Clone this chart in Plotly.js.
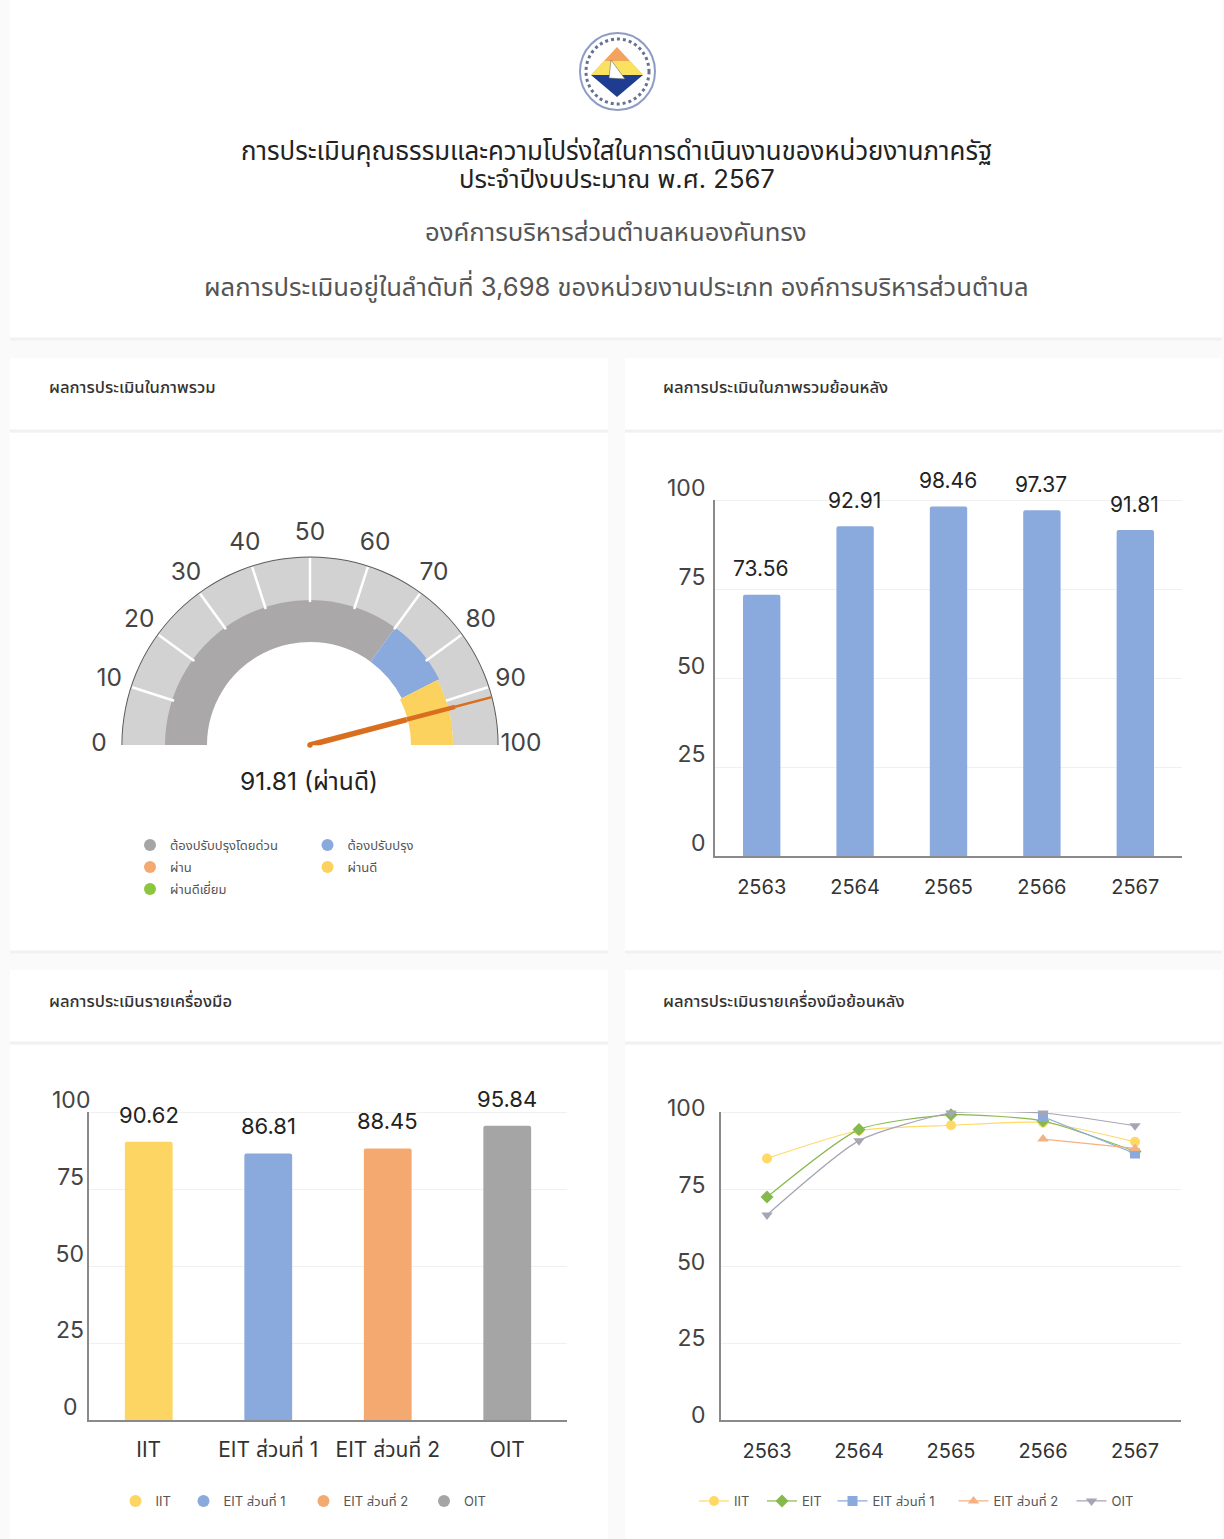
<!DOCTYPE html>
<html><head><meta charset="utf-8">
<script src="https://cdn.plot.ly/plotly-3.0.1.min.js"></script>
<style>html,body{margin:0;padding:0;background:#fcfcfc}#c{width:1224px;height:1539px}</style>
</head><body><div id="c"></div>
<script>
const W=1224,H=1539;
const FONT="Inter, 'Noto Sans Thai', 'Noto Sans', sans-serif";
// ---- data ----
const gaugeTicks=[0,10,20,30,40,50,60,70,80,90,100];
const gaugeBandNames=['ต้องปรับปรุงโดยด่วน','ต้องปรับปรุง','ผ่านดี'];
const gaugeBandStart=[0,70,85];
const gaugeBandEnd=[70,85,100];
const gaugeBandColors=['#aba8a9','#8aa9dc','#fcd25f'];
const gaugeScore=91.81;
const gaugeLabel='91.81 (ผ่านดี)';
const gaugeLegend=['ต้องปรับปรุงโดยด่วน','ผ่าน','ผ่านดีเยี่ยม','ต้องปรับปรุง','ผ่านดี'];
const gaugeLegendColors=['#a5a5a5','#f4a971','#8cc63f','#8aa9dc','#fcd25f'];
const years=['2563','2564','2565','2566','2567'];
const overall=[73.56,92.91,98.46,97.37,91.81];
const tools=['IIT','EIT ส่วนที่ 1','EIT ส่วนที่ 2','OIT'];
const toolScores=[90.62,86.81,88.45,95.84];
const toolColors=['#fcd562','#8aa9dc','#f4a971','#a5a5a5'];
const histIIT=[85.2,94.3,96,96.9,90.62];
const histEIT=[72.6,94.6,99.4,97.4,87.5];
const histEIT1=[null,null,null,98.8,86.81];
const histEIT2=[null,null,null,91.5,88.45];
const histOIT=[66.8,91,100,100,95.84];
const yTicks=[0,25,50,75,100];

const fx=x=>x/W, fy=y=>1-y/H;
const dark='#222', mid='#444';
const traces=[];
const annotations=[];
const shapes=[];
const legends={};
let legendCount=0;

// page panels
function panel(x0,y0,x1,y1){
  shapes.push({type:'rect',layer:'below',xref:'paper',yref:'paper',x0:fx(x0),x1:fx(x1),y0:fy(y0),y1:fy(y1),fillcolor:'#fff',line:{width:0}});
}
function rule(x0,x1,y){
  shapes.push({type:'line',layer:'below',xref:'paper',yref:'paper',x0:fx(x0),x1:fx(x1),y0:fy(y),y1:fy(y),line:{color:'#f1f1f1',width:3}});
}
panel(10,0,1222,338);rule(10,1222,339);
panel(10,358,608,430);rule(10,608,431);panel(10,433,608,951);rule(10,608,952);
panel(625,358,1222,430);rule(625,1222,431);panel(625,433,1222,951);rule(625,1222,952);
panel(10,970,608,1042);rule(10,608,1043);panel(10,1045,608,1539);
panel(625,970,1222,1042);rule(625,1222,1043);panel(625,1045,1222,1539);

function text(t,x,y,size,color,extra,weight){
  annotations.push(Object.assign({text:t,xref:'paper',yref:'paper',x:fx(x),y:fy(y),xanchor:'center',yanchor:'middle',showarrow:false,font:{family:FONT,size:size,color:color,weight:weight||400}},extra||{}));
}
text('การประเมินคุณธรรมและความโปร่งใสในการดำเนินงานของหน่วยงานภาครัฐ',616,151,25.8,'#222');
text('ประจำปีงบประมาณ พ.ศ. 2567',617,178,25.6,'#222');
text('องค์การบริหารส่วนตำบลหนองคันทรง',616,231,25.7,'#555');
text('ผลการประเมินอยู่ในลำดับที่ 3,698 ของหน่วยงานประเภท องค์การบริหารส่วนตำบล',616,286,25.6,'#555');
text('ผลการประเมินในภาพรวม',47,387,16.6,'#333',{xanchor:'left'},500);
text('ผลการประเมินในภาพรวมย้อนหลัง',661,387,16.6,'#333',{xanchor:'left'},500);
text('ผลการประเมินรายเครื่องมือ',47,1000,16.6,'#333',{xanchor:'left'},500);
text('ผลการประเมินรายเครื่องมือย้อนหลัง',661,1000,16.6,'#333',{xanchor:'left'},500);
text(gaugeLabel,309,781,24.6,'#222');

// logo
const logo=[
 {type:'circle',x0:580,x1:655,y0:33,y1:110,fillcolor:'#fff',line:{color:'#8f9cc4',width:2}},
 {type:'circle',x0:586,x1:649,y0:39,y1:104,fillcolor:'rgba(0,0,0,0)',line:{color:'#66728f',width:3,dash:'dot'}},
 {type:'path',path:'M 617 47 L 643 75 L 591 75 Z',fillcolor:'#f2a45c',line:{width:0}},
 {type:'path',path:'M 604 61 L 630 61 L 643 75 L 591 75 Z',fillcolor:'#f9e25f',line:{width:0}},
 {type:'path',path:'M 591 75 L 643 75 L 617 97 Z',fillcolor:'#1f3d90',line:{width:0}},
 {type:'path',path:'M 609 78 L 611 60 L 625 79 Z',fillcolor:'#fff',line:{color:'#555',width:0.5}}
];
logo.forEach(s=>{
  const o=Object.assign({xref:'paper',yref:'paper',layer:'above'},s);
  if(s.type==='circle'){o.x0=fx(s.x0);o.x1=fx(s.x1);o.y0=fy(s.y0);o.y1=fy(s.y1);}
  else{o.path=s.path.replace(/(\d+) (\d+)/g,(m,a,b)=>fx(+a)+' '+fy(+b));}
  shapes.push(o);
});

// gauge (polar subplot)
const th=v=>180-1.8*v;
const R_OUT=188,R_BAND=145,R_IN=103,R_LAB=211;
const bandShift=[0,0,-2];
function band(start,end,base,top,color,name){
  return {type:'barpolar',subplot:'polar',theta:[th((start+end)/2)],width:[1.8*(end-start)],base:[base],r:[top-base],
    marker:{color:color,line:{width:0}},showlegend:false,hoverinfo:'skip',name:name};
}
traces.push(band(0,100,R_BAND-2,R_OUT,'#d2d2d2','scale'));
traces.push(band(0,100,R_OUT-0.4,R_OUT+0.6,'#5a5a5a','edge'));
gaugeBandNames.forEach((n,i)=>traces.push(band(gaugeBandStart[i],gaugeBandEnd[i],R_IN+bandShift[i],R_BAND+bandShift[i],gaugeBandColors[i],n)));
{
  const r=[],t=[];
  gaugeTicks.slice(1,-1).forEach(v=>{r.push(R_BAND-2,R_OUT-1,null);t.push(th(v),th(v),null);});
  traces.push({type:'scatterpolar',subplot:'polar',mode:'lines',r:r,theta:t,line:{color:'#fff',width:2.5},showlegend:false,hoverinfo:'skip'});
}
traces.push({type:'scatterpolar',subplot:'polar',mode:'text',r:gaugeTicks.map(()=>R_LAB),theta:gaugeTicks.map(th),text:gaugeTicks.map(String),
  textfont:{family:FONT,size:24.5,color:mid},textposition:'middle center',showlegend:false,hoverinfo:'skip',cliponaxis:false});
[[0,100,5.5],[100,150,4.5],[150,R_OUT,2.5]].forEach(seg=>traces.push({type:'scatterpolar',subplot:'polar',mode:'lines',cliponaxis:false,
  r:[seg[0],seg[1]],theta:[th(gaugeScore),th(gaugeScore)],line:{color:'#d96f1e',width:seg[2]},showlegend:false,hoverinfo:'skip'}));
traces.push({type:'scatterpolar',subplot:'polar',mode:'markers',cliponaxis:false,r:[0],theta:[th(gaugeScore)],marker:{color:'#d96f1e',size:5.5},showlegend:false,hoverinfo:'skip'});

// legends: one box per entry so that each is placed as in the page
function legendBox(markerX,textX,y,size,sizing){
  legendCount++;
  const key=legendCount===1?'legend':'legend'+legendCount;
  legends[key]={x:fx((markerX+textX)/2-30),y:fy(y),xanchor:'left',yanchor:'middle',bgcolor:'rgba(0,0,0,0)',itemsizing:sizing||'constant',itemwidth:30,
    font:{family:FONT,size:size||13,color:'#555'},itemclick:false,itemdoubleclick:false};
  return key;
}
function legendEntry(name,color,legend,xa,ya){
  return {type:'scatter',x:[null],y:[null],xaxis:xa||'x',yaxis:ya||'y',mode:'markers',name:name,legend:legend,
    marker:{color:color,size:14,symbol:'circle'},hoverinfo:'skip'};
}
const gaugeLegendPos=[[152,168,845],[152,168,867],[152,168,889],[330,345,845],[330,345,867]];
gaugeLegend.forEach((n,i)=>traces.push(legendEntry(n,gaugeLegendColors[i],legendBox(gaugeLegendPos[i][0],gaugeLegendPos[i][1],gaugeLegendPos[i][2]))));

// overall retrospective
traces.push({type:'bar',x:years,y:overall,xaxis:'x',yaxis:'y',marker:{color:'#8aa9dc',cornerradius:2},width:0.4,showlegend:false,hoverinfo:'x+y'});
overall.forEach((v,i)=>annotations.push({text:v.toFixed(2),xref:'x',yref:'y',x:i,y:v,yshift:26,xshift:-1,yanchor:'middle',showarrow:false,font:{family:FONT,size:21,color:dark}}));

// tool scores
const toolLegendPos=[[139,152],[206,221],[326,341],[447,461]];
toolScores.forEach((v,i)=>{
  traces.push({type:'bar',x:[tools[i]],y:[v],xaxis:'x2',yaxis:'y2',marker:{color:toolColors[i],cornerradius:2},width:0.4,showlegend:false,hoverinfo:'x+y'});
  annotations.push({text:v.toFixed(2),xref:'x2',yref:'y2',x:i,y:v,yshift:27,yanchor:'middle',showarrow:false,font:{family:FONT,size:22,color:dark}});
  traces.push(legendEntry(tools[i],toolColors[i],legendBox(toolLegendPos[i][0],toolLegendPos[i][1],1501),'x2','y2'));
});

// tool history
const hist=[['IIT',histIIT,'#ffd966','circle'],['EIT',histEIT,'#86b94c','diamond'],['EIT ส่วนที่ 1',histEIT1,'#8aa9dc','square'],['EIT ส่วนที่ 2',histEIT2,'#f4b183','triangle-up'],['OIT',histOIT,'#a5a5b5','triangle-down']];
const histLegendPos=[[717,731],[784,800],[855,870],[976,991],[1096,1107]];
hist.forEach((h,i)=>traces.push({type:'scatter',x:years,y:h[1],xaxis:'x3',yaxis:'y3',name:h[0],mode:'lines+markers',cliponaxis:false,connectgaps:false,
  line:{color:h[2],width:1.2,shape:'spline',smoothing:0.6},marker:{color:h[2],size:10,symbol:h[3]},legend:legendBox(histLegendPos[i][0],histLegendPos[i][1],1501,13,'trace')}));

const Y_MAX=100.35;
function xAxis(l,r,anchor,cats,size,len){
  return {type:'category',categoryorder:'array',categoryarray:cats,domain:[fx(l),fx(r)],anchor:anchor,range:[-0.5,cats.length-0.5],showline:true,linecolor:'#8a8a8a',linewidth:2,ticks:'outside',ticklen:len,tickcolor:'rgba(0,0,0,0)',
    tickfont:{family:FONT,size:size||20,color:'#333'},showgrid:false,zeroline:false,fixedrange:true};
}
function yAxis(top,bottom,anchor,shift,standoff,ticktext){
  const t=top-(bottom-top)*(Y_MAX-100)/100;
  return {domain:[fy(bottom),fy(t)],anchor:anchor,range:[0,Y_MAX],tickvals:yTicks,ticktext:ticktext,showline:true,linecolor:'#8a8a8a',linewidth:2,
    ticks:'',ticklabelshift:shift,ticklabelstandoff:standoff,tickfont:{family:FONT,size:23,color:mid},gridcolor:'#f0f0f0',gridwidth:1,zeroline:false,fixedrange:true};
}

const layout=Object.assign({
  width:W,height:H,margin:{l:0,r:0,t:0,b:0},paper_bgcolor:'#fafafa',plot_bgcolor:'rgba(0,0,0,0)',
  showlegend:true,bargap:0.6,barmode:'overlay',shapes:shapes,annotations:annotations,font:{family:FONT},
  polar:{domain:{x:[fx(310-215),fx(310+215)],y:[fy(745+215*Math.sin(3*Math.PI/180)),fy(530)]},sector:[-3,183],bgcolor:'rgba(0,0,0,0)',barmode:'overlay',bargap:0,
    radialaxis:{visible:false,range:[0,215]},angularaxis:{visible:false,direction:'counterclockwise',rotation:0}},
  xaxis:xAxis(715,1182,'y',years,20,12),yaxis:yAxis(501,856,'x',-13,3),
  xaxis2:xAxis(89,567,'y2',tools,21,10),yaxis2:yAxis(1113,1420,'x2',-13,-8,['0\u00a0\u00a0','25\u00a0','50\u00a0','75\u00a0','100']),
  xaxis3:xAxis(721,1181,'y3',years,20,12),yaxis3:yAxis(1113,1420,'x3',-5,9)
},legends);
Plotly.newPlot('c',traces,layout,{displayModeBar:false,staticPlot:true});
</script></body></html>
